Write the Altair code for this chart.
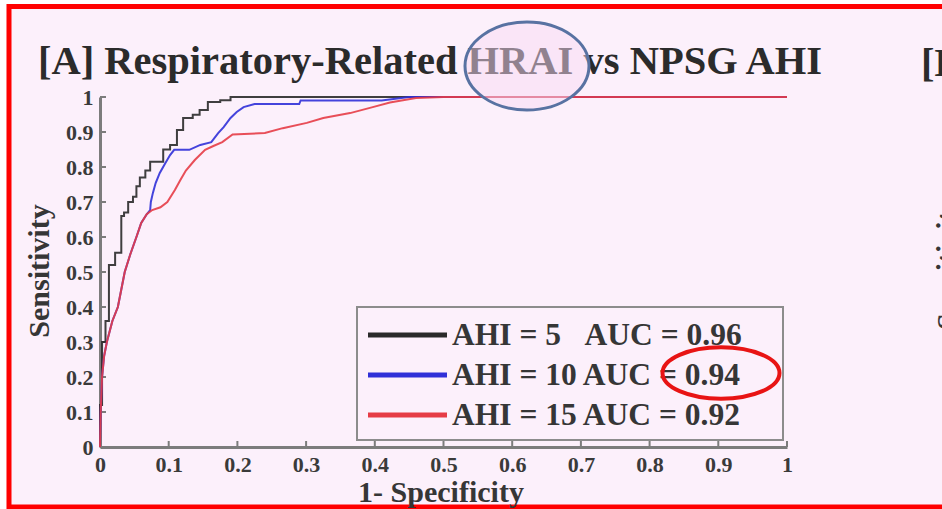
import altair as alt
import pandas as pd

FONT = "Liberation Serif"
BG = "#fcf0fb"

# ROC operating points: 1 - specificity (fpr) and sensitivity (tpr)
fpr_ahi5 = [0, 0, 0.003, 0.008, 0.013, 0.022, 0.031, 0.035, 0.041, 0.048, 0.053, 0.058,
            0.066, 0.073, 0.092, 0.102, 0.112, 0.121, 0.135, 0.145, 0.157, 0.175, 0.19, 1.0]
tpr_ahi5 = [0, 0.12, 0.30, 0.36, 0.52, 0.555, 0.66, 0.67, 0.70, 0.715, 0.745, 0.77,
            0.79, 0.815, 0.85, 0.863, 0.906, 0.94, 0.949, 0.963, 0.986, 0.991, 1.0, 1.0]

fpr_ahi10 = [0, 0.001, 0.003, 0.006, 0.010, 0.018, 0.026, 0.031, 0.036, 0.044,
             0.053, 0.060, 0.068, 0.073, 0.074, 0.077, 0.081, 0.087, 0.095, 0.102,
             0.108, 0.13, 0.146, 0.162, 0.172, 0.18, 0.19, 0.199, 0.209, 0.225,
             0.29, 0.292, 0.41, 0.45, 1.0]
tpr_ahi10 = [0, 0.1, 0.2, 0.26, 0.30, 0.36, 0.40, 0.45, 0.50, 0.55,
             0.60, 0.64, 0.665, 0.677, 0.70, 0.726, 0.754, 0.783, 0.811, 0.834,
             0.849, 0.849, 0.863, 0.871, 0.897, 0.914, 0.94, 0.957, 0.971, 0.98,
             0.98, 0.99, 0.99, 1.0, 1.0]

fpr_ahi15 = [0, 0.001, 0.003, 0.006, 0.010, 0.018, 0.026, 0.031, 0.036, 0.044,
             0.053, 0.060, 0.068, 0.076, 0.088, 0.098, 0.109, 0.117, 0.125, 0.138,
             0.153, 0.165, 0.178, 0.193, 0.24, 0.266, 0.301, 0.325, 0.364, 0.397,
             0.422, 0.46, 0.50, 1.0]
tpr_ahi15 = [0, 0.1, 0.2, 0.26, 0.30, 0.36, 0.40, 0.45, 0.50, 0.55,
             0.60, 0.64, 0.665, 0.677, 0.685, 0.70, 0.734, 0.763, 0.790, 0.82,
             0.849, 0.86, 0.871, 0.893, 0.897, 0.911, 0.926, 0.94, 0.954, 0.971,
             0.984, 0.997, 1.0, 1.0]

series_labels = ["AHI = 5\u00a0\u00a0\u00a0AUC = 0.96", "AHI = 10 AUC = 0.94", "AHI = 15 AUC = 0.92"]
series_colors = ["#2a2a2a", "#3030d8", "#e63c46"]
series_interp = ["step-after", "linear", "linear"]
series_points = [(fpr_ahi5, tpr_ahi5), (fpr_ahi10, tpr_ahi10), (fpr_ahi15, tpr_ahi15)]

tick_values = [0, 0.1, 0.2, 0.3, 0.4, 0.5, 0.6, 0.7, 0.8, 0.9, 1]

title_text = "[A] Respiratory-Related HRAI vs NPSG AHI"
x_title = "1- Specificity"
y_title = "Sensitivity"

W, H = 687, 350
PAD = {"left": 100, "top": 97, "right": 155, "bottom": 62}

xscale = alt.Scale(domain=[0, 1], nice=False, zero=False)
yscale = alt.Scale(domain=[0, 1], nice=False, zero=False)
axis_common = dict(values=tick_values, format="~g", ticks=False, tickSize=0,
                   domainColor="#7c7c7c", domainWidth=3, grid=False, title=None,
                   labelFont=FONT, labelFontWeight="bold", labelFontSize=22,
                   labelColor="#3a3a3a", labelOverlap=False, labelFlush=False)
xaxis = alt.Axis(labelPadding=7, **axis_common)
yaxis = alt.Axis(labelPadding=7, **axis_common)


def X(field="fpr"):
    return alt.X(f"{field}:Q", scale=xscale, axis=xaxis)


def Y(field="tpr"):
    return alt.Y(f"{field}:Q", scale=yscale, axis=yaxis)


one = pd.DataFrame({"k": [0]})

# page frame: white margin strips and the red border (open on the right)
frame = [
    alt.Chart(one).mark_rect(color="white").encode(
        x=alt.value(-100), x2=alt.value(W + PAD["right"]), y=alt.value(-97), y2=alt.value(-93)),
    alt.Chart(one).mark_rect(color="white").encode(
        x=alt.value(-100), x2=alt.value(-93.5), y=alt.value(-97), y2=alt.value(H + PAD["bottom"])),
    alt.Chart(one).mark_rect(filled=False, stroke="#ff0000", strokeWidth=5).encode(
        x=alt.value(-91), x2=alt.value(W + PAD["right"] + 30), y=alt.value(-90.5), y2=alt.value(410)),
]

# inward tick marks
ticks_df = pd.DataFrame({"fpr": tick_values, "tpr": tick_values})
xticks = alt.Chart(ticks_df).mark_rule(color="#7c7c7c", strokeWidth=2).encode(
    x=X(), y=alt.value(H), y2=alt.value(H - 6))
yticks = alt.Chart(ticks_df).mark_rule(color="#7c7c7c", strokeWidth=2).encode(
    y=Y(), x=alt.value(0), x2=alt.value(6))

# ROC curves, drawn black, blue, red (red on top)
curves = []
for (fx, fy), label, color, interp in zip(series_points, series_labels, series_colors, series_interp):
    df = pd.DataFrame({"fpr": fx, "tpr": fy, "i": range(len(fx))})
    curves.append(
        alt.Chart(df).mark_line(color=color, strokeWidth=2, interpolate=interp, opacity=0.9).encode(
            x=X(), y=Y(), order="i:Q")
    )

# legend box with line samples and labels
legend = [
    alt.Chart(one).mark_rect(filled=False, stroke="#8c8c8c", strokeWidth=2).encode(
        x=alt.value(257), x2=alt.value(683), y=alt.value(210), y2=alt.value(343))
]
for i, (label, color) in enumerate(zip(series_labels, series_colors)):
    row_y = 238 + 40 * i
    ldf = pd.DataFrame({"label": [label]})
    legend.append(alt.Chart(ldf).mark_rule(color=color, strokeWidth=5).encode(
        x=alt.value(268), x2=alt.value(347), y=alt.value(row_y)))
    legend.append(alt.Chart(ldf).mark_text(
        font=FONT, fontWeight="bold", fontSize=31.5, color="#363636",
        align="left", baseline="middle").encode(
        text="label:N", x=alt.value(352), y=alt.value(row_y + 1)))

# titles
texts = [
    alt.Chart(pd.DataFrame({"t": [title_text]})).mark_text(
        font=FONT, fontWeight="bold", fontSize=40.5, color="#2b2b2b", align="left", baseline="middle").encode(
        text="t:N", x=alt.value(-62), y=alt.value(-35)),
    alt.Chart(pd.DataFrame({"t": ["[B]"]})).mark_text(
        font=FONT, fontWeight="bold", fontSize=40.5, color="#2b2b2b", align="left", baseline="middle").encode(
        text="t:N", x=alt.value(821), y=alt.value(-33)),
    alt.Chart(pd.DataFrame({"t": [x_title]})).mark_text(
        font=FONT, fontWeight="bold", fontSize=30, color="#363636", align="center", baseline="middle").encode(
        text="t:N", x=alt.value(341), y=alt.value(396)),
    alt.Chart(pd.DataFrame({"t": [y_title]})).mark_text(
        font=FONT, fontWeight="bold", fontSize=30, color="#363636", align="center", baseline="middle",
        angle=270).encode(text="t:N", x=alt.value(-60), y=alt.value(174)),
    alt.Chart(pd.DataFrame({"t": [y_title]})).mark_text(
        font=FONT, fontWeight="bold", fontSize=30, color="#363636", align="center", baseline="alphabetic",
        angle=270).encode(text="t:N", x=alt.value(857), y=alt.value(166)),
]

# highlight ellipses
ellipse_a = "M -1 0 A 1 0.71 0 1 1 1 0 A 1 0.71 0 1 1 -1 0 Z"
ellipse_b = "M -1 0 A 1 0.44 0 1 1 1 0 A 1 0.44 0 1 1 -1 0 Z"
marks = [
    alt.Chart(one).mark_point(shape=ellipse_a, size=124 * 124, filled=True, fill="#f7d9f4",
                              fillOpacity=0.5, stroke="#5872a2", strokeWidth=3, opacity=1,
                              strokeOpacity=1).encode(x=alt.value(427), y=alt.value(-31)),
    alt.Chart(one).mark_point(shape=ellipse_b, size=117 * 117, filled=False, stroke="#e81414",
                              strokeWidth=4, opacity=1).encode(x=alt.value(621), y=alt.value(276)),
]

chart = alt.layer(*frame, xticks, yticks, *curves, *legend, *texts, *marks).properties(
    width=W, height=H, padding=PAD, autosize=alt.AutoSizeParams(type="none"), background=BG
).configure_view(stroke=None)

chart.save("out.html", embed_options={"renderer": "svg", "actions": False})
